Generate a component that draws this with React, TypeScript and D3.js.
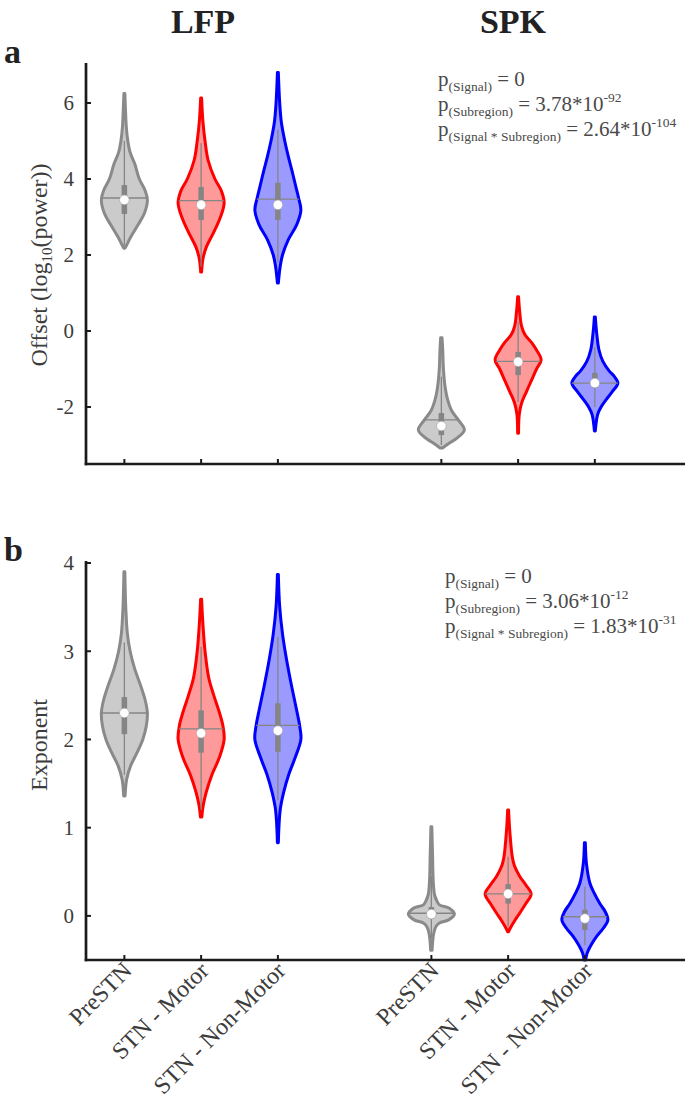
import React from "react";
import * as d3 from "d3";

// ---------- data ----------
const signals = ["LFP", "SPK"];
const categories = ["PreSTN", "STN - Motor", "STN - Non-Motor"];
const offsetPositions = [1, 2, 3, 5.13, 6.13, 7.13];
const exponentPositions = [1, 2, 3, 5, 6, 7];
const offsetTicks = [-2, 0, 2, 4, 6];
const exponentTicks = [0, 1, 2, 3, 4];

// violin profiles: [value, relative density]
const offsetLfpPreSTN: [number, number][] = [[2.18,0.03],[2.3,0.13],[2.5,0.3],[2.8,0.6],[3.1,0.87],[3.45,1],[3.7,0.9],[4.0,0.65],[4.4,0.45],[4.7,0.25],[5.0,0.15],[5.4,0.08],[5.8,0.05],[6.25,0.02]];
const offsetLfpMotor: [number, number][] = [[1.55,0.02],[1.9,0.08],[2.2,0.22],[2.6,0.55],[3.0,0.84],[3.37,1],[3.7,0.87],[4.0,0.6],[4.5,0.3],[5.0,0.17],[5.5,0.08],[6.13,0.02]];
const offsetLfpNonMotor: [number, number][] = [[1.26,0.02],[1.7,0.1],[2.0,0.2],[2.4,0.45],[2.8,0.82],[3.18,1],[3.5,0.9],[3.8,0.78],[4.2,0.62],[4.6,0.45],[5.0,0.3],[5.5,0.15],[6.0,0.08],[6.8,0.02]];
const offsetSpkPreSTN: [number, number][] = [[-3.08,0.05],[-2.95,0.35],[-2.8,0.72],[-2.6,1],[-2.35,0.75],[-2.1,0.45],[-1.8,0.27],[-1.5,0.17],[-1.0,0.09],[-0.5,0.06],[-0.18,0.03]];
const offsetSpkMotor: [number, number][] = [[-2.69,0.02],[-2.2,0.05],[-1.9,0.15],[-1.6,0.36],[-1.3,0.58],[-1.0,0.8],[-0.76,1],[-0.5,0.8],[-0.3,0.58],[-0.1,0.3],[0.13,0.15],[0.5,0.07],[0.9,0.02]];
const offsetSpkNonMotor: [number, number][] = [[-2.63,0.02],[-2.2,0.12],[-2.0,0.27],[-1.8,0.5],[-1.6,0.75],[-1.37,1],[-1.2,0.85],[-1.05,0.62],[-0.8,0.35],[-0.5,0.18],[0,0.07],[0.37,0.02]];

const exponentLfpPreSTN: [number, number][] = [[1.36,0.03],[1.55,0.1],[1.7,0.27],[1.85,0.55],[2.0,0.8],[2.15,0.95],[2.3,1],[2.45,0.9],[2.6,0.72],[2.8,0.45],[3.0,0.25],[3.2,0.13],[3.5,0.06],[3.9,0.02]];
const exponentLfpMotor: [number, number][] = [[1.12,0.03],[1.25,0.09],[1.4,0.22],[1.6,0.47],[1.8,0.8],[2.0,1],[2.15,0.95],[2.3,0.8],[2.5,0.55],[2.7,0.33],[3.0,0.17],[3.3,0.08],[3.59,0.02]];
const exponentLfpNonMotor: [number, number][] = [[0.83,0.02],[1.2,0.1],[1.4,0.25],[1.6,0.47],[1.8,0.76],[2.0,1],[2.15,0.95],[2.35,0.8],[2.6,0.6],[2.9,0.38],[3.2,0.2],[3.5,0.08],[3.87,0.02]];
const exponentSpkPreSTN: [number, number][] = [[-0.39,0.03],[-0.2,0.1],[-0.12,0.2],[-0.08,0.35],[-0.045,0.75],[0.02,1],[0.087,0.78],[0.125,0.35],[0.18,0.22],[0.25,0.13],[0.4,0.08],[0.7,0.05],[1.01,0.02]];
const exponentSpkMotor: [number, number][] = [[-0.18,0.02],[-0.14,0.09],[-0.06,0.27],[0.03,0.5],[0.14,0.77],[0.25,1],[0.35,0.77],[0.45,0.5],[0.57,0.27],[0.67,0.18],[0.97,0.07],[1.2,0.02]];
const exponentSpkNonMotor: [number, number][] = [[-0.5,0.03],[-0.42,0.1],[-0.33,0.27],[-0.23,0.52],[-0.14,0.8],[-0.045,1],[0.05,0.88],[0.14,0.65],[0.26,0.4],[0.37,0.22],[0.59,0.07],[0.83,0.02]];

const offsetMedian = [3.45, 3.32, 3.32, -2.5, -0.81, -1.37];
const offsetMean = [3.5, 3.43, 3.47, -2.34, -0.8, -1.37];
const offsetQ1 = [3.08, 2.92, 2.92, -2.74, -1.16, -1.5];
const offsetQ3 = [3.84, 3.79, 3.9, -2.16, -0.55, -1.1];
const offsetWhiskerLow = [2.25, 1.7, 1.8, -3.0, -1.87, -2.0];
const offsetWhiskerHigh = [5.0, 4.95, 5.3, -1.2, 0.25, -0.42];

const exponentMedian = [2.3, 2.07, 2.1, 0.02, 0.25, -0.03];
const exponentMean = [2.3, 2.12, 2.16, 0.03, 0.25, -0.01];
const exponentQ1 = [2.06, 1.85, 1.86, -0.03, 0.14, -0.16];
const exponentQ3 = [2.48, 2.33, 2.41, 0.1, 0.36, 0.07];
const exponentWhiskerLow = [1.6, 1.2, 1.31, -0.25, -0.12, -0.33];
const exponentWhiskerHigh = [3.1, 3.05, 3.16, 0.45, 0.67, 0.33];

const offsetStatsText = [
  { sub: "(Signal)", val: "0", exp: "" },
  { sub: "(Subregion)", val: "3.78*10", exp: "-92" },
  { sub: "(Signal * Subregion)", val: "2.64*10", exp: "-104" },
];
const exponentStatsText = [
  { sub: "(Signal)", val: "0", exp: "" },
  { sub: "(Subregion)", val: "3.06*10", exp: "-12" },
  { sub: "(Signal * Subregion)", val: "1.83*10", exp: "-31" },
];

// ---------- styles ----------
const FONT = "'Liberation Serif', 'Times New Roman', serif";
const FILLS = ["#cbcbcb", "#ff9a9a", "#9a9aff"];
const STROKES = ["#8a8a8a", "#ff0000", "#0000ff"];
const INNER = "#858585";
const TEXT = "#3c3c3c";
const HALF_W = 0.3;

const W = 685;
const H = 1106;
const x = d3.scaleLinear().domain([0.5, 8.5]).range([86, 700]);
const yTop = d3.scaleLinear().domain([-3.5, 7]).range([464, 65]);
const yBot = d3.scaleLinear().domain([-0.5, 4]).range([960, 563]);

function widthAt(profile: [number, number][], v: number) {
  const vs = profile.map((p) => p[0]);
  const i = d3.bisectLeft(vs, v);
  if (i <= 0) return profile[0][1];
  if (i >= profile.length) return profile[profile.length - 1][1];
  const [v0, d0] = profile[i - 1];
  const [v1, d1] = profile[i];
  return d0 + ((v - v0) / (v1 - v0)) * (d1 - d0);
}

type PanelProps = {
  y: d3.ScaleLinear<number, number>;
  profiles: [number, number][][];
  positions: number[];
  median: number[];
  mean: number[];
  q1: number[];
  q3: number[];
  wlo: number[];
  whi: number[];
  ticks: number[];
  statsText: { sub: string; val: string; exp: string }[];
  statsX: number;
  statsY: number;
  showLabels: boolean;
};

function Panel(p: PanelProps) {
  const { y } = p;
  const [y0] = y.range();
  const axisX = x.range()[0];
  return (
    <g>
      {p.profiles.map((prof, i) => {
        const c = i % 3;
        const pos = p.positions[i];
        const area = d3
          .area<[number, number]>()
          .y((d) => y(d[0]))
          .x0((d) => x(pos - HALF_W * d[1]))
          .x1((d) => x(pos + HALF_W * d[1]))
          .curve(d3.curveCatmullRom.alpha(0.5));
        const cx = x(pos);
        const mw = widthAt(prof, p.mean[i]) * HALF_W;
        return (
          <g key={i}>
            <path d={area(prof) || ""} fill={FILLS[c]} stroke={STROKES[c]} strokeWidth={3} strokeLinejoin="round" />
            <line x1={cx} x2={cx} y1={y(p.wlo[i])} y2={y(p.whi[i])} stroke={INNER} strokeWidth={1.3} />
            <line x1={cx} x2={cx} y1={y(p.q1[i])} y2={y(p.q3[i])} stroke={INNER} strokeWidth={5.5} />
            <line x1={x(pos - mw)} x2={x(pos + mw)} y1={y(p.mean[i])} y2={y(p.mean[i])} stroke={INNER} strokeWidth={1.3} />
            <circle cx={cx} cy={y(p.median[i])} r={4.8} fill="#ffffff" stroke="#a0a0a0" strokeWidth={0.6} />
          </g>
        );
      })}
      {/* axes */}
      <line x1={axisX} x2={axisX} y1={y(y.domain()[1]) - 2} y2={y0 + 1.3} stroke="#1a1a1a" strokeWidth={2.7} />
      <line x1={axisX - 1.3} x2={W + 20} y1={y0} y2={y0} stroke="#1a1a1a" strokeWidth={2.7} />
      {p.ticks.map((t) => (
        <g key={t}>
          <line x1={axisX} x2={axisX + 5} y1={y(t)} y2={y(t)} stroke="#1a1a1a" strokeWidth={2} />
          <text x={axisX - 12} y={y(t)} dy="0.35em" textAnchor="end" fontSize={21} fontFamily={FONT} fill={TEXT}>
            {t < 0 ? "-" + Math.abs(t) : t}
          </text>
        </g>
      ))}
      {p.positions.map((pos, i) => (
        <g key={i}>
          <line x1={x(pos)} x2={x(pos)} y1={y0} y2={y0 - 5} stroke="#1a1a1a" strokeWidth={2} />
          {p.showLabels && (
            <text
              transform={`translate(${x(pos) + 9},${y0 + 12}) rotate(-45)`}
              textAnchor="end"
              fontSize={24}
              fontFamily={FONT}
              fill={TEXT}
            >
              {categories[i % 3]}
            </text>
          )}
        </g>
      ))}
      {p.statsText.map((s, i) => (
        <text key={i} x={p.statsX} y={p.statsY + i * 25} fontSize={21} fontFamily={FONT} fill="#4a4a4a">
          <tspan>p</tspan>
          <tspan dy={5} fontSize={13.5}>{s.sub}</tspan>
          <tspan dy={-5} fontSize={21}>{"\u00a0=\u00a0" + s.val}</tspan>
          {s.exp && (
            <tspan dy={-9} fontSize={13.5}>{s.exp}</tspan>
          )}
        </text>
      ))}
    </g>
  );
}

export default function App() {
  return (
    <div style={{ position: "absolute", left: 0, top: 0 }}>
      <svg width={W} height={H} style={{ display: "block", background: "#fff" }}>
        <text x={203} y={33} textAnchor="middle" fontSize={34} fontWeight="bold" fontFamily={FONT} fill="#222">{signals[0]}</text>
        <text x={513} y={33} textAnchor="middle" fontSize={34} fontWeight="bold" fontFamily={FONT} fill="#222">{signals[1]}</text>
        <text x={4} y={63} fontSize={34} fontWeight="bold" fontFamily={FONT} fill="#222">a</text>
        <text x={4} y={561} fontSize={34} fontWeight="bold" fontFamily={FONT} fill="#222">b</text>

        <text transform="translate(47,265) rotate(-90)" textAnchor="middle" fontSize={24} fontFamily={FONT} fill={TEXT}>
          <tspan>Offset (log</tspan>
          <tspan dy={5} fontSize={15}>10</tspan>
          <tspan dy={-5}>(power))</tspan>
        </text>
        <text transform="translate(47,745) rotate(-90)" textAnchor="middle" fontSize={24} fontFamily={FONT} fill={TEXT}>
          Exponent
        </text>

        <Panel
          y={yTop}
          profiles={[offsetLfpPreSTN, offsetLfpMotor, offsetLfpNonMotor, offsetSpkPreSTN, offsetSpkMotor, offsetSpkNonMotor]}
          positions={offsetPositions}
          median={offsetMedian}
          mean={offsetMean}
          q1={offsetQ1}
          q3={offsetQ3}
          wlo={offsetWhiskerLow}
          whi={offsetWhiskerHigh}
          ticks={offsetTicks}
          statsText={offsetStatsText}
          statsX={438}
          statsY={86}
          showLabels={false}
        />
        <Panel
          y={yBot}
          profiles={[exponentLfpPreSTN, exponentLfpMotor, exponentLfpNonMotor, exponentSpkPreSTN, exponentSpkMotor, exponentSpkNonMotor]}
          positions={exponentPositions}
          median={exponentMedian}
          mean={exponentMean}
          q1={exponentQ1}
          q3={exponentQ3}
          wlo={exponentWhiskerLow}
          whi={exponentWhiskerHigh}
          ticks={exponentTicks}
          statsText={exponentStatsText}
          statsX={445}
          statsY={583}
          showLabels={true}
        />
      </svg>
    </div>
  );
}
